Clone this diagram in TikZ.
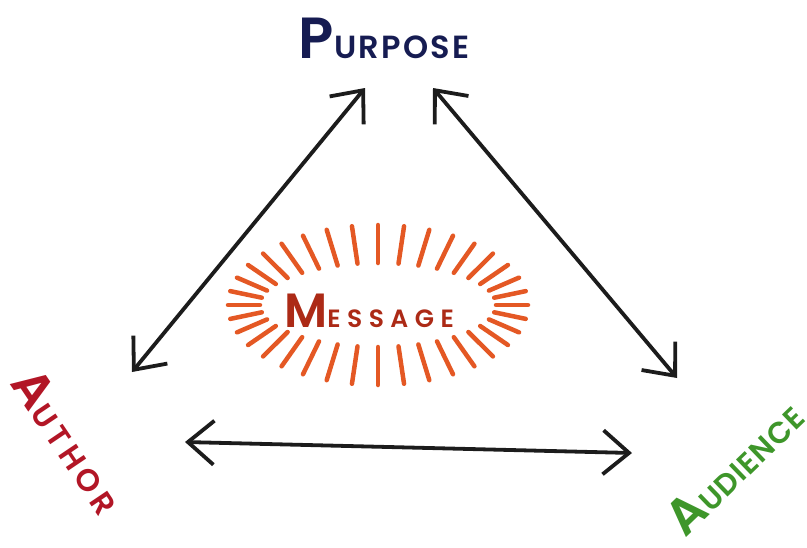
\documentclass[tikz,border=0pt]{standalone}
\usepackage{xcolor}
\usepackage{fontspec}
\setmainfont{Poppins SemiBold}
\usepackage{tikz}
\usetikzlibrary{arrows.meta}

\definecolor{purposeblue}{RGB}{22,28,82}
\definecolor{authorred}{RGB}{178,22,38}
\definecolor{audiencegreen}{RGB}{62,150,42}
\definecolor{messagered}{RGB}{172,42,22}
\definecolor{gloworange}{RGB}{228,88,36}
\definecolor{pen}{RGB}{28,28,28}

\begin{document}
\begin{tikzpicture}[x=1pt, y=-1pt,
        word/.style={inner sep=0pt},
        link/.style={pen, line width=3.8pt, line cap=round, line join=round,
            {Straight Barb[length=26pt,width=44pt]}-{Straight Barb[length=26pt,width=44pt]}},
        ray/.style={gloworange, line width=4.5pt, line cap=round}]

        % big first letter, the rest as small capitals
        \def\capword#1#2#3#4#5{{\addfontfeature{LetterSpace=#5}\fontsize{#3}{#3}\selectfont #1\fontsize{#4}{#4}\selectfont #2}}

        \useasboundingbox (0,0) rectangle (807,547);

        \node[word, text=purposeblue] (purpose) at (384,38) {\capword{P}{URPOSE}{58}{32}{7}};
        \node[word, text=messagered] (message) at (369,311) {\capword{M}{ESSAGE}{48}{25}{26}};
        \node[word, text=authorred, rotate=-56] (author) at (69,441) {\capword{A}{UTHOR}{50}{31}{16}};
        \node[word, text=audiencegreen, rotate=44] (audience) at (734,467) {\capword{A}{UDIENCE}{50}{30}{3}};

        % glow round the message
        \coordinate (glow) at (378,305);
        \foreach \t in {0,10,...,350}
            \draw[ray] ([shift={(\t:118 and 42)}]glow) -- ([shift={(\t:150 and 80)}]glow);

        % arrow ends
        \coordinate (author-up) at (132,372);
        \coordinate (author-right) at (185,442);
        \coordinate (purpose-left) at (365,88);
        \coordinate (purpose-right) at (433,88);
        \coordinate (audience-up) at (677,378);
        \coordinate (audience-left) at (632,453);

        \draw[link] (author-up) -- (purpose-left);
        \draw[link] (purpose-right) -- (audience-up);
        \draw[link] (author-right) -- (audience-left);
\end{tikzpicture}
\end{document}
